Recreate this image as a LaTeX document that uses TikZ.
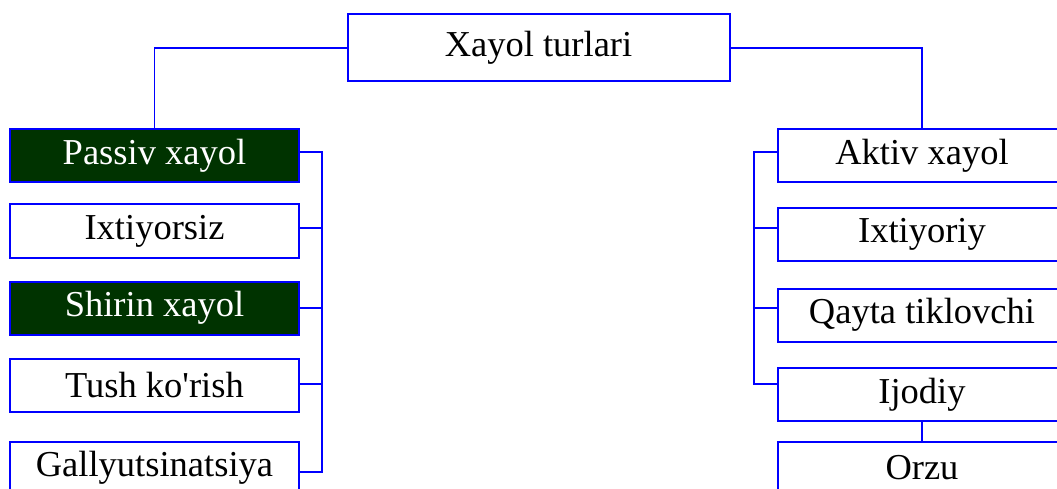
\documentclass[tikz,border=0pt]{standalone}
\usepackage{fontspec}
\newfontfamily\tnr{Liberation Serif}
\definecolor{boxblue}{RGB}{0,0,255}
\definecolor{darkfill}{RGB}{0,51,0}
\begin{document}
\begin{tikzpicture}[x=1pt,y=-1pt,
  box/.style={draw=boxblue,line width=2pt,fill=white,minimum width=289pt,minimum height=53pt,inner sep=0pt,
    font=\tnr\fontsize{36.5}{40}\selectfont,text=black},
  topbox/.style={box,minimum width=382pt,minimum height=67pt},
  darkbox/.style={box,fill=darkfill,text=white},
  link/.style={draw=boxblue,line width=1.4pt}]
\useasboundingbox (0,0) rectangle (1057,489);
\begin{scope}
\clip (0,0) rectangle (1057,489);
\node[topbox] (top) at (538.5,48) {Xayol turlari};
% left column
\node[darkbox] (p1) at (154.5,156) {Passiv xayol};
\node[box] (p2) at (154.5,231) {Ixtiyorsiz};
\node[darkbox] (p3) at (154.5,308) {Shirin xayol};
\node[box] (p4) at (154.5,385) {Tush ko'rish};
\node[box] (p5) at (154.5,468) {Gallyutsinatsiya};
% right column
\node[box] (a1) at (922,156) {Aktiv xayol};
\node[box] (a2) at (922,234.5) {Ixtiyoriy};
\node[box] (a3) at (922,315) {Qayta tiklovchi};
\node[box] (a4) at (922,394.5) {Ijodiy};
\node[box] (a5) at (922,468) {Orzu};
\coordinate (lbus) at (322,0);
\coordinate (rbus) at (754,0);
\end{scope}
% top connectors
\draw[link] (top.west) -| (p1.north);
\draw[link] (top.east) -| (a1.north);
% left bus
\draw[link] ([yshift=4pt]p1.east) -- ([yshift=4pt]p1.east -| lbus) -- ([yshift=-4pt]p5.east -| lbus) -- ([yshift=-4pt]p5.east);
\draw[link] ([yshift=3pt]p2.east) -- ([yshift=3pt]p2.east -| lbus);
\draw[link] (p3.east) -- (p3.east -| lbus);
\draw[link] ([yshift=1pt]p4.east) -- ([yshift=1pt]p4.east -| lbus);
% right bus
\draw[link] ([yshift=4pt]a1.west) -- ([yshift=4pt]a1.west -| rbus) -- ([yshift=10.5pt]a4.west -| rbus) -- ([yshift=10.5pt]a4.west);
\draw[link] ([yshift=6.5pt]a2.west) -- ([yshift=6.5pt]a2.west -| rbus);
\draw[link] ([yshift=7pt]a3.west) -- ([yshift=7pt]a3.west -| rbus);
\draw[link] (a4.south) -- (a5.north);
\end{tikzpicture}
\end{document}
